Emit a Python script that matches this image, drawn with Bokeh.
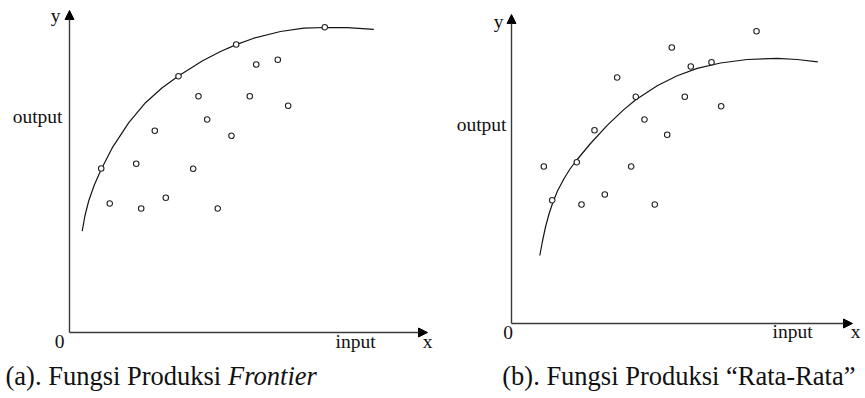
from bokeh.plotting import figure
from bokeh.layouts import row
from bokeh.models import Range1d, Arrow, NormalHead
from bokeh.embed import file_html
from bokeh.resources import INLINE
from bokeh.core.properties import value

# ---------------- data (units: reading scale, origin at the axes corner) ----------------
# Panel (a): Fungsi Produksi Frontier
a_frontier_x = [31.7, 109.0, 166.7, 255.3]
a_frontier_y = [164.0, 256.3, 288.0, 305.3]
a_obs_x = [40.3, 71.7, 66.7, 85.3, 96.3, 129.0, 137.7, 123.7, 148.3, 162.0, 180.3, 186.7, 208.3, 218.7]
a_obs_y = [129.0, 124.0, 168.7, 201.7, 134.7, 236.3, 213.0, 163.7, 124.0, 196.7, 236.3, 268.0, 272.7, 226.7]
a_curve_x = [12.7, 15.5, 19.3, 25.0, 32.0, 42.7, 59.3, 76.0, 92.7, 109.3, 132.7, 151.0, 166.7,
             184.3, 211.0, 234.3, 256.0, 277.7, 304.3]
a_curve_y = [101.3, 117.0, 132.0, 148.0, 163.7, 184.6, 209.8, 229.8, 244.8, 256.8, 271.5, 281.0, 287.9,
             294.3, 301.0, 304.3, 305.0, 304.8, 303.2]

# Panel (b): Fungsi Produksi "Rata-Rata"
b_obs_x = [32.3, 40.7, 65.3, 70.0, 83.0, 93.3, 105.7, 119.7, 124.3, 133.0, 143.3, 155.7, 160.3,
           173.3, 179.3, 200.0, 209.7, 245.0]
b_obs_y = [157.0, 123.3, 161.3, 119.0, 193.3, 129.0, 246.0, 157.0, 226.7, 204.0, 119.0, 188.7, 276.0,
           226.7, 257.0, 261.3, 217.3, 292.3]
b_curve_x = [28.3, 31.0, 34.0, 37.5, 41.5, 46.0, 52.3, 58.5, 65.3, 79.0, 95.7, 112.3, 124.3, 145.7,
             165.7, 185.7, 209.0, 235.7, 265.7, 285.7, 306.3]
b_curve_y = [68.0, 82.5, 96.5, 109.5, 121.5, 132.5, 144.5, 154.5, 163.5, 180.0, 198.1, 213.9, 223.7,
             237.8, 247.8, 255.1, 260.5, 264.0, 265.2, 264.0, 261.7]

axis_x_label = "input"
axis_y_label = "output"
axis_x_name = "x"
axis_y_name = "y"
origin_label = "0"
caption_a_regular = "(a). Fungsi Produksi "
caption_a_italic = "Frontier"
caption_b = "(b). Fungsi Produksi \u201cRata-Rata\u201d"

# ---------------- styling ----------------
FONT = value("Liberation Serif")
LABEL_SIZE = "19.5px"
CAPTION_SIZE = "26.5px"
TEXT_COLOR = "#111111"
AXIS_COLOR = "#3a3a3a"
CURVE_COLOR = "#151515"
H = 398


def make_panel(width, x_start, x_end, y_start, y_end):
    p = figure(width=width, height=H, output_backend="svg", toolbar_location=None,
               x_range=Range1d(x_start, x_end), y_range=Range1d(y_start, y_end),
               x_axis_location=None, y_axis_location=None,
               min_border=0, min_border_left=0, min_border_right=0,
               min_border_top=0, min_border_bottom=0)
    p.grid.visible = False
    p.outline_line_color = None
    p.background_fill_color = "white"
    p.border_fill_color = "white"
    return p


def add_axes(p, x_len, y_len):
    for xe, ye in ((x_len, 0), (0, y_len)):
        p.add_layout(Arrow(x_start=0, y_start=0, x_end=xe, y_end=ye,
                           line_color=AXIS_COLOR, line_width=1.4,
                           end=NormalHead(size=9, fill_color="black", line_color="black",
                                          line_width=1)))


def label(p, x, y, txt, align="center", size=LABEL_SIZE, style="normal"):
    p.text(x=[x], y=[y], text=[txt], text_font=FONT, text_font_size=size,
           text_align=align, text_baseline="alphabetic", text_color=TEXT_COLOR,
           text_font_style=style)


# ---------------- panel (a) ----------------
pa = make_panel(435, -69, 366, -66, 332)
add_axes(pa, 358, 322)
pa.line(a_curve_x, a_curve_y, line_color=CURVE_COLOR, line_width=1.2, line_join="round")
pa.scatter(a_obs_x, a_obs_y, marker="circle", size=5.5, fill_color="white",
           line_color="#222222", line_width=1.1)
pa.scatter(a_frontier_x, a_frontier_y, marker="circle", size=5.5, fill_color="white",
           line_color="#222222", line_width=1.1)
label(pa, -14, 317, axis_y_name)
label(pa, -7, 216, axis_y_label, align="right")
label(pa, -10, -9, origin_label)
label(pa, 266, -9, axis_x_label, align="left")
label(pa, 358, -9, axis_x_name)
label(pa, -64, -43, caption_a_regular, align="left", size=CAPTION_SIZE)
label(pa, 158.5, -43, caption_a_italic, align="left", size=CAPTION_SIZE, style="italic")

# ---------------- panel (b) ----------------
pb = make_panel(430, -76, 354, -75, 323)
add_axes(pb, 341, 309)
pb.line(b_curve_x, b_curve_y, line_color=CURVE_COLOR, line_width=1.2, line_join="round")
pb.scatter(b_obs_x, b_obs_y, marker="circle", size=5.5, fill_color="white",
           line_color="#222222", line_width=1.1)
label(pb, -13, 302, axis_y_name)
label(pb, -5, 199, axis_y_label, align="right")
label(pb, -3.5, -9, origin_label)
label(pb, 261, -8, axis_x_label, align="left")
label(pb, 344, -8, axis_x_name)
label(pb, 344, -52, caption_b, align="right", size=CAPTION_SIZE)

layout = row(pa, pb)
open("out.html", "w").write(file_html(layout, INLINE))
